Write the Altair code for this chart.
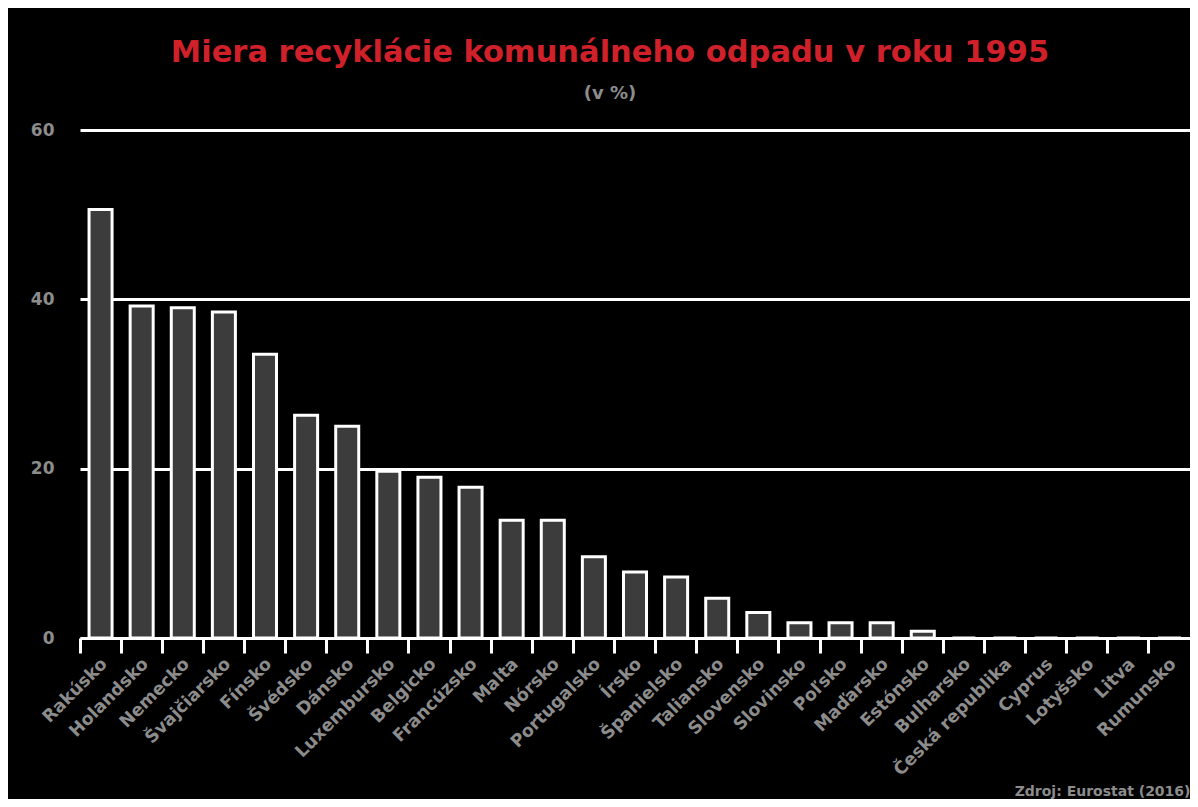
import altair as alt
import pandas as pd

countries = ["Rakúsko", "Holandsko", "Nemecko", "Švajčiarsko", "Fínsko", "Švédsko",
             "Dánsko", "Luxembursko", "Belgicko", "Francúzsko", "Malta", "Nórsko",
             "Portugalsko", "Írsko", "Španielsko", "Taliansko", "Slovensko", "Slovinsko",
             "Poľsko", "Maďarsko", "Estónsko", "Bulharsko", "Česká republika", "Cyprus",
             "Lotyšsko", "Litva", "Rumunsko"]
values = [50.6, 39.2, 39.0, 38.5, 33.5, 26.3, 25.0, 19.7, 19.0, 17.8, 13.9, 13.9,
          9.6, 7.8, 7.2, 4.7, 3.0, 1.8, 1.8, 1.8, 0.8, 0, 0, 0, 0, 0, 0]
y_ticks = [0, 20, 40, 60]

title_text = "Miera recyklácie komunálneho odpadu v roku 1995"
subtitle_text = "(v %)"
source_text = "Zdroj: Eurostat (2016)"

df = pd.DataFrame({"krajina": countries, "miera": values})

FONT = "DejaVu Sans"
GRAY = "#8c8c8c"
RED = "#d0202a"

W, H = 1110, 508

chart = alt.Chart(df).mark_bar(
    width=alt.RelativeBandSize(0.56), fill="#3c3c3c", stroke="white", strokeWidth=3
).encode(
    x=alt.X("krajina:N", sort=countries,
            scale=alt.Scale(paddingInner=0, paddingOuter=0),
            axis=alt.Axis(
                title=source_text, titleAnchor="end", titleFont=FONT, titleFontSize=14,
                titleFontWeight="bold", titleColor=GRAY, titlePadding=6,
                bandPosition=0, labelOffset=4, labelAngle=315,
                labelAlign="right", labelBaseline="middle", labelPadding=8,
                labelFont=FONT, labelFontSize=17.5, labelFontWeight="bold",
                labelColor=GRAY, tickSize=15, tickWidth=3, tickColor="white",
                domainColor="white", domainWidth=3, grid=False)),
    y=alt.Y("miera:Q", scale=alt.Scale(domain=[0, 60], nice=False),
            axis=alt.Axis(values=y_ticks, title=None, domain=False, ticks=False,
                          grid=True, gridColor="white", gridWidth=3,
                          labelFont=FONT, labelFontSize=17, labelFontWeight="bold",
                          labelColor=GRAY, labelPadding=26)),
).properties(
    width=W, height=H,
    title=alt.TitleParams(
        text=title_text, subtitle=subtitle_text, anchor="middle", dx=-25,
        font=FONT, fontSize=30.5, fontWeight="bold", color=RED,
        subtitleFont=FONT, subtitleFontSize=18, subtitleFontWeight="bold",
        subtitleColor=GRAY, subtitlePadding=17, offset=18),
    autosize=alt.AutoSizeParams(type="none"),
    padding={"left": 72, "top": 122, "right": 0, "bottom": 161},
    background="black",
).configure_view(stroke=None)

chart.save("out.html", embed_options={"renderer": "svg", "actions": False})
